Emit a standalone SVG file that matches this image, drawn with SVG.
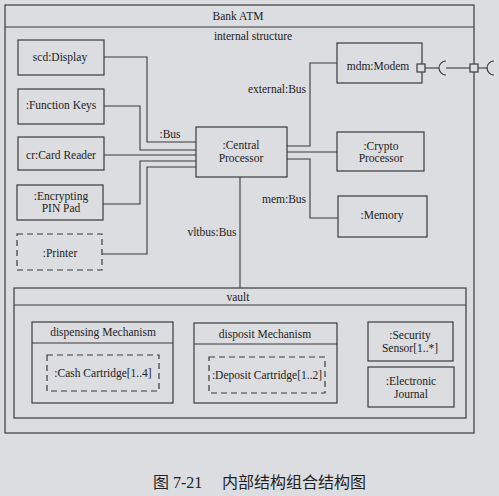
<svg xmlns="http://www.w3.org/2000/svg" width="499" height="496" viewBox="0 0 499 496">
<style>
.bg{fill:#dcdde0}
.box{fill:none;stroke:#3a3a3a;stroke-width:1.2}
.dash{fill:none;stroke:#3a3a3a;stroke-width:1.2;stroke-dasharray:6 4}
.ln{fill:none;stroke:#3a3a3a;stroke-width:1.1}
.t{font-family:'Liberation Serif','DejaVu Serif',serif;font-size:11.5px;fill:#222;text-anchor:middle;dominant-baseline:central}
.cap{font-family:'Liberation Serif','Noto Sans CJK SC',serif;font-size:16px;fill:#222}
</style>
<rect class="bg" x="0" y="0" width="499" height="496"/>

<g id="bank-atm">
<rect class="box" x="5" y="5" width="469" height="428"/>
<line class="ln" x1="5" y1="27" x2="474" y2="27"/>
<text class="t" x="238" y="16">Bank ATM</text>
<text class="t" x="253" y="36">internal structure</text>
</g>

<g id="connectors">
<polyline class="ln" points="104,57 147,57 147,142 196,142"/>
<polyline class="ln" points="104,106 140,106 140,150 196,150"/>
<polyline class="ln" points="104,155 196,155"/>
<polyline class="ln" points="103,204 140,204 140,161 196,161"/>
<polyline class="ln" points="102,254 147,254 147,167 196,167"/>
<polyline class="ln" points="287,146 310,146 310,63 337,63"/>
<polyline class="ln" points="287,152 337,152"/>
<polyline class="ln" points="287,159 310,159 310,218 338,218"/>
<line class="ln" x1="240" y1="177" x2="240" y2="288"/>
<line class="ln" x1="425" y1="68" x2="439" y2="68"/>
<path class="ln" d="M446,61 A7,7 0 0 0 446,75"/>
<line class="ln" x1="446" y1="68" x2="470" y2="68"/>
<line class="ln" x1="478" y1="68" x2="488" y2="68"/>
<path class="ln" d="M494,61 A7,7 0 0 0 494,75"/>
<text class="t" x="170" y="134">:Bus</text>
<text class="t" x="277" y="89">external:Bus</text>
<text class="t" x="284" y="199">mem:Bus</text>
<text class="t" x="212" y="232">vltbus:Bus</text>
</g>

<g id="display"><rect class="box" x="18" y="40" width="86" height="35"/><text class="t" x="60" y="57">scd:Display</text></g>
<g id="function-keys"><rect class="box" x="18" y="89" width="86" height="35"/><text class="t" x="61" y="105">:Function Keys</text></g>
<g id="card-reader"><rect class="box" x="18" y="137" width="86" height="33"/><text class="t" x="61" y="155">cr:Card Reader</text></g>
<g id="pin-pad"><rect class="box" x="17" y="185" width="86" height="35"/><text class="t" x="61" y="196">:Encrypting</text><text class="t" x="61" y="208">PIN Pad</text></g>
<g id="printer"><rect class="dash" x="17" y="234" width="85" height="36"/><text class="t" x="60" y="253">:Printer</text></g>
<g id="central-processor"><rect class="box" x="196" y="127" width="91" height="50"/><text class="t" x="241" y="145">:Central</text><text class="t" x="241" y="158">Processor</text></g>
<g id="modem"><rect class="box" x="337" y="43" width="85" height="40"/><text class="t" x="378" y="66">mdm:Modem</text><rect class="box" x="417" y="64" width="8" height="8" style="fill:#dcdde0"/></g>
<g id="modem-port"><rect class="box" x="470" y="64" width="8" height="8" style="fill:#dcdde0"/></g>
<g id="crypto"><rect class="box" x="337" y="132" width="87" height="39"/><text class="t" x="381" y="146">:Crypto</text><text class="t" x="381" y="158">Processor</text></g>
<g id="memory"><rect class="box" x="338" y="196" width="89" height="41"/><text class="t" x="382" y="215">:Memory</text></g>

<g id="vault">
<rect class="box" x="14" y="288" width="452" height="130"/>
<line class="ln" x1="14" y1="305" x2="466" y2="305"/>
<text class="t" x="238" y="297">vault</text>
</g>
<g id="dispensing">
<rect class="box" x="32" y="322" width="141" height="81"/>
<line class="ln" x1="32" y1="343" x2="173" y2="343"/>
<text class="t" x="103" y="332">dispensing Mechanism</text>
</g>
<g id="cash-cartridge"><rect class="dash" x="47" y="355" width="112" height="36"/><text class="t" x="103" y="373">:Cash Cartridge[1..4]</text></g>
<g id="disposit">
<rect class="box" x="194" y="323" width="143" height="80"/>
<line class="ln" x1="194" y1="344" x2="337" y2="344"/>
<text class="t" x="265" y="334">disposit Mechanism</text>
</g>
<g id="deposit-cartridge"><rect class="dash" x="209" y="357" width="116" height="36"/><text class="t" x="267" y="375">:Deposit Cartridge[1..2]</text></g>
<g id="security-sensor"><rect class="box" x="368" y="322" width="85" height="39"/><text class="t" x="410" y="335">:Security</text><text class="t" x="410" y="348">Sensor[1..*]</text></g>
<g id="journal"><rect class="box" x="368" y="367" width="86" height="40"/><text class="t" x="411" y="381">:Electronic</text><text class="t" x="411" y="394">Journal</text></g>

<text class="cap" x="153" y="488">图 7-21</text>
<text class="cap" x="222" y="488">内部结构组合结构图</text>
</svg>
